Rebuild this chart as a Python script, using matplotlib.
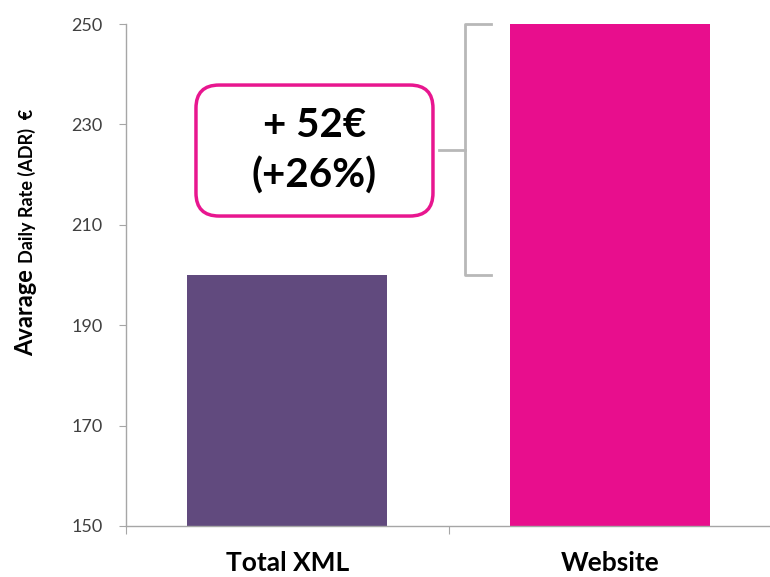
import matplotlib.pyplot as plt
from matplotlib.patches import FancyBboxPatch

plt.rcParams['font.family'] = ['Lato', 'DejaVu Sans']

categories = ["Total XML", "Website"]
adr = [200, 252]
yticks = [150, 170, 190, 210, 230, 250]

bar_colors = ["#614a7e", "#e80e8d"]
pink = "#e8168f"
gray = "#a6a6a6"

fig = plt.figure(figsize=(7.7, 5.77), dpi=100)
ax = fig.add_axes([0.1636, 0.0884, 0.838, 0.870])

x = list(range(len(categories)))
ax.bar(x, adr, width=0.62, color=bar_colors)
ax.set_xlim(-0.5, len(categories) - 0.5)
ax.set_ylim(150, 250)
ax.set_yticks(yticks)
ax.set_yticklabels([str(v) for v in yticks], fontsize=13, color="#404040")

ax.set_xticks([i - 0.5 for i in range(len(categories) + 1)])
ax.set_xticklabels([])
ax.set_xticks(x, minor=True)
ax.set_xticklabels(categories, minor=True, fontsize=19, fontweight="bold")
ax.tick_params(axis="x", which="minor", length=0, pad=18)
ax.tick_params(axis="x", which="major", length=6, color=gray, direction="out")
ax.tick_params(axis="y", length=5, color=gray, direction="out", pad=12)

for s in ["top", "right"]:
    ax.spines[s].set_visible(False)
for s in ["left", "bottom"]:
    ax.spines[s].set_color(gray)
    ax.spines[s].set_linewidth(1.0)

# bracket between the two bar heights
lo = adr[0]
hi = min(adr[1], ax.get_ylim()[1])
mid = (lo + hi) / 2
bx = 0.55
ax.plot([bx + 0.08, bx, bx, bx + 0.08], [hi, hi, lo, lo], color="#b8b8b8", lw=2, clip_on=False)
ax.plot([bx - 0.08, bx], [mid, mid], color="#b8b8b8", lw=2, clip_on=False)

# difference box
diff = adr[1] - adr[0]
pct = diff / adr[0] * 100
box = FancyBboxPatch((0.2545, 0.6256), 0.3078, 0.227,
                     boxstyle="round,pad=0,rounding_size=0.03",
                     mutation_aspect=770 / 577,
                     transform=fig.transFigure, fc="white", ec=pink, lw=2.5)
fig.patches.append(box)
fig.text(0.2545 + 0.3078 / 2, 0.6256 + 0.227 / 2, f"+ {diff}€\n(+{pct:.0f}%)",
         ha="center", va="center", fontsize=29, fontweight="bold",
         linespacing=1.4)

# y label with mixed sizes
renderer = fig.canvas.get_renderer()
y0 = 1 - 356 / 577
xb = 33 / 770
parts = [("Avarage ", 17), ("Daily Rate (ADR)  €", 13)]
for txt, fs in parts:
    t = fig.text(xb, y0, txt, rotation=90, rotation_mode="anchor",
                 ha="left", va="baseline", fontsize=fs, fontweight="bold")
    bb = t.get_window_extent(renderer)
    y0 += bb.height / fig.bbox.height

fig.savefig("out.png", dpi=100)
